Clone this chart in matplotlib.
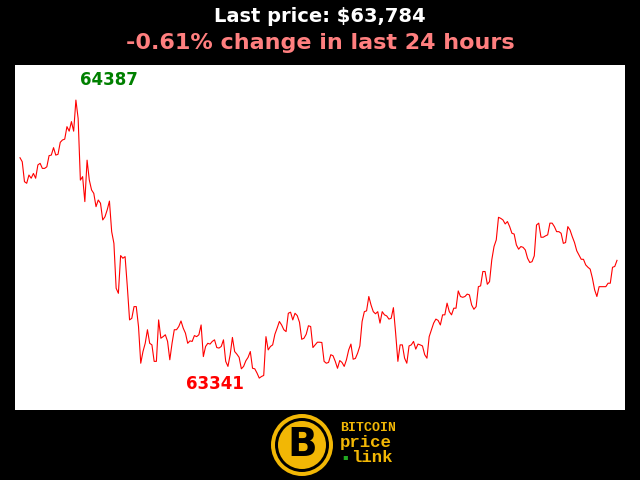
import matplotlib
matplotlib.use("Agg")
import matplotlib.pyplot as plt
from matplotlib.patches import Circle

# Prices over the last 24 hours (evenly spaced samples)
prices = [
    64170, 64155, 64080, 64074, 64105, 64093, 64111, 64093, 64143, 64149, 64130, 64130, 64136,
    64178, 64180, 64208, 64180, 64183, 64228, 64237, 64240, 64287, 64270, 64306, 64270, 64387,
    64318, 64086, 64099, 64005, 64161, 64086, 64049, 64036, 63986, 64011, 63999, 63936, 63948,
    63974, 64007, 63892, 63848, 63679, 63660, 63802, 63792, 63798, 63685, 63560, 63566, 63610,
    63610, 63535, 63397, 63441, 63472, 63523, 63472, 63466, 63404, 63404, 63560, 63491, 63497,
    63504, 63479, 63410, 63472, 63523, 63523, 63535, 63556, 63529, 63510, 63472, 63481, 63479,
    63501, 63497, 63504, 63541, 63422, 63460, 63472, 63469, 63479, 63485, 63456, 63454, 63460,
    63485, 63404, 63385, 63429, 63494, 63441, 63431, 63419, 63376, 63385, 63406, 63419, 63441,
    63378, 63376, 63360, 63341, 63347, 63351, 63497, 63447, 63460, 63466, 63506, 63529, 63554,
    63541, 63523, 63516, 63585, 63589, 63560, 63585, 63576, 63551, 63487, 63491, 63506, 63538,
    63535, 63456, 63466, 63476, 63476,
    63475, 63404, 63397, 63400, 63429, 63425, 63404, 63378, 63407, 63400, 63385, 63410, 63447,
    63469, 63412, 63415, 63435, 63462, 63554, 63591, 63594, 63648, 63616, 63591, 63583, 63591,
    63548, 63591, 63579, 63575, 63563, 63566, 63606, 63510, 63404, 63466, 63466, 63416, 63397,
    63462, 63466, 63479, 63450, 63469, 63466, 63462, 63429, 63416, 63497, 63523, 63548, 63563,
    63558, 63541, 63579, 63579, 63623, 63591, 63579, 63604, 63604, 63669, 63648, 63645, 63648,
    63657, 63654, 63616, 63600, 63610, 63685, 63688, 63742, 63742, 63694, 63704, 63786, 63836,
    63861, 63946, 63942, 63936, 63921, 63930, 63911, 63886, 63883, 63842, 63826, 63836, 63833,
    63823, 63792, 63776, 63779, 63801, 63917, 63924, 63871, 63871, 63876, 63880, 63924, 63924,
    63911, 63892, 63892, 63886, 63848, 63851, 63911, 63898, 63873, 63851, 63820, 63804, 63788,
    63788, 63767, 63758, 63751, 63717, 63673, 63648, 63685, 63685, 63685, 63685, 63698, 63698,
    63758, 63761, 63784,
]
last_price = 63784
change_pct = -0.61

fig = plt.figure(figsize=(6.4, 4.8), dpi=100, facecolor="black")
ax = fig.add_axes([15 / 640, 70 / 480, 610 / 640, 345 / 480])
ax.set_facecolor("white")
n = len(prices)
ax.plot(range(n), prices, color="red", linewidth=0.8)
ax.set_xlim(-5 / 597 * (n - 1), (n - 1) * (1 + 8 / 597))
ax.set_ylim(63221, 64519)
ax.set_xticks([])
ax.set_yticks([])
for s in ax.spines.values():
    s.set_visible(False)

imax = prices.index(max(prices))
imin = prices.index(min(prices))
ax.annotate(str(max(prices)), (imax, max(prices)), xytext=(24, 8), textcoords="offset points",
            ha="center", va="bottom", color="green", fontsize=12, fontweight="bold")
ax.annotate(str(min(prices)), (imin, min(prices)), xytext=(-32, 2), textcoords="offset points",
            ha="center", va="top", color="red", fontsize=12, fontweight="bold")

fig.text(0.5, 1 - 16 / 480, f"Last price: ${last_price:,}", ha="center", va="center",
         color="white", fontsize=14, fontweight="bold")
fig.text(0.5, 1 - 43 / 480, f"{change_pct:.2f}% change in last 24 hours", ha="center",
         va="center", color="#ff7f7f", fontsize=16, fontweight="bold")

# logo
gold = "#f2b705"
cx, cy = 302 / 640, 1 - 445 / 480
fig.patches.append(Circle((302, 35), 31, transform=None, facecolor=gold, edgecolor="none"))
fig.patches.append(Circle((302, 35), 27, transform=None, facecolor="black", edgecolor="none"))
fig.patches.append(Circle((302, 35), 24, transform=None, facecolor=gold, edgecolor="none"))
fig.text(cx, cy, "B", ha="center", va="center", color="black", fontsize=28, fontweight="bold")
mono = "Liberation Mono"
fig.text(340 / 640, 1 - 428 / 480, "BITCOIN", ha="left", va="center", color=gold,
         fontsize=9.5, fontweight="bold", family=mono)
fig.text(340 / 640, 1 - 443 / 480, "price", ha="left", va="center", color=gold,
         fontsize=12.5, fontweight="bold", family=mono)
fig.text(342 / 640, 1 - 457 / 480, "\u25aa", ha="left", va="center", color="#22aa22",
         fontsize=6)
fig.text(351 / 640, 1 - 457 / 480, "link", ha="left", va="center", color=gold,
         fontsize=12.5, fontweight="bold", family=mono)

fig.savefig("out.png", dpi=100, facecolor="black")
